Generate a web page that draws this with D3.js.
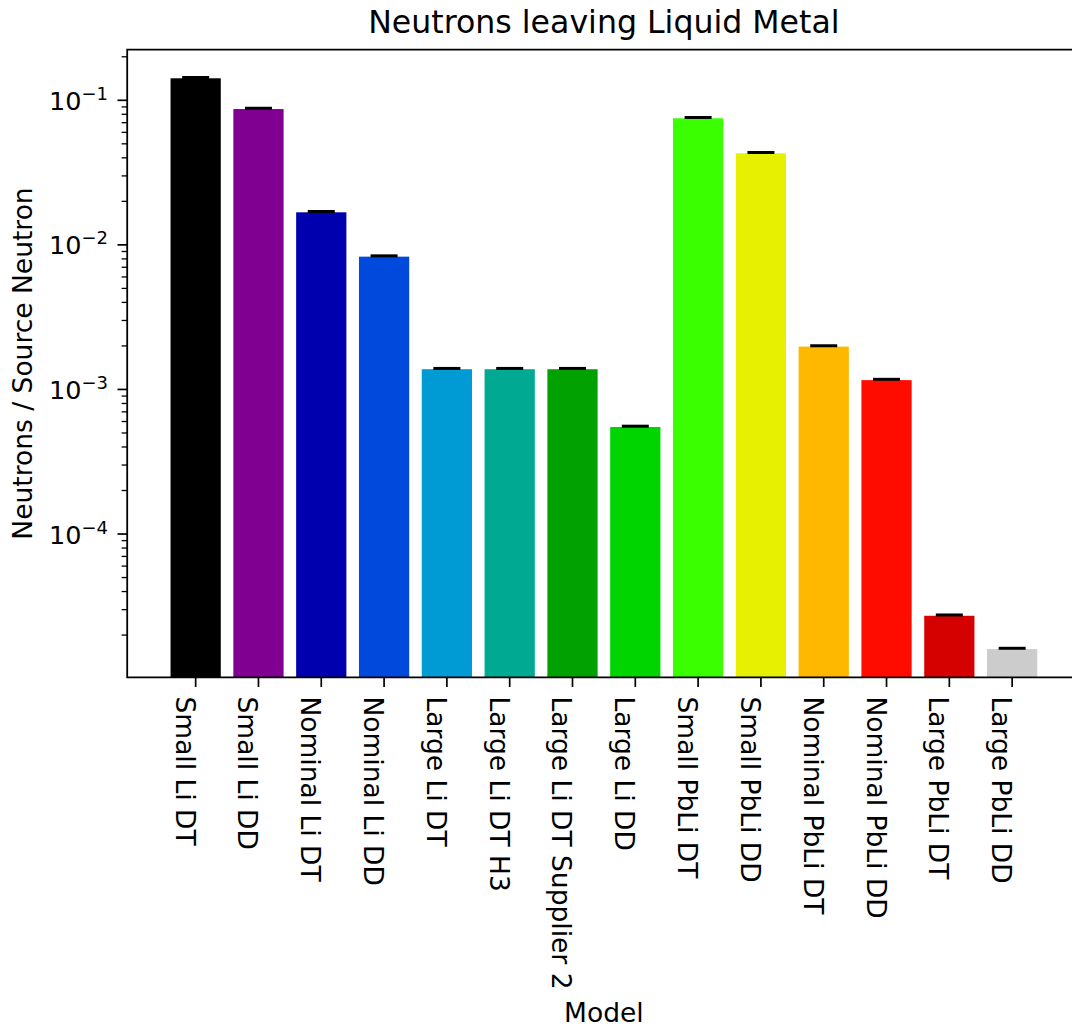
<!DOCTYPE html>
<html>
<head>
<meta charset="utf-8">
<script src="https://cdn.jsdelivr.net/npm/d3@7"></script>
<style>
	body { margin: 0; background: #fff; }
	text { font-family: "DejaVu Sans", sans-serif; fill: #000; }
</style>
</head>
<body>
<svg id="chart" width="1072" height="1028"></svg>
<script>
// models on the x axis
var models = ["Small Li DT", "Small Li DD", "Nominal Li DT", "Nominal Li DD",
	"Large Li DT", "Large Li DT H3", "Large Li DT Supplier 2", "Large Li DD",
	"Small PbLi DT", "Small PbLi DD", "Nominal PbLi DT", "Nominal PbLi DD",
	"Large PbLi DT", "Large PbLi DD"];

// neutrons per source neutron
var leaving = [0.142, 0.087, 0.0168, 0.00829,
	0.00138, 0.00138, 0.00138, 0.00055,
	0.0751, 0.0430, 0.00198, 0.00116,
	0.0000272, 0.0000160];

var yTicks = [1e-4, 1e-3, 1e-2, 1e-1];
var yTickExp = ["−4", "−3", "−2", "−1"];

// nipy_spectral sampled i/13
var barColors = ["#000000", "#800091", "#0000ae", "#0049dd", "#009bd5", "#00aa92",
	"#00a100", "#00d500", "#3aff00", "#e6f000", "#ffb800", "#ff0c00", "#d50000", "#cccccc"];

buildChart();

function buildChart() {
	var svg = d3.select("#chart");

	var left = 127.2, right = 1080.6, top = 49.7, bottom = 677.3;

	var x = d3.scaleLinear()
		.domain([-1.09, models.length - 1 + 1.09])
		.range([left, right]);

	var y = d3.scaleLog()
		.domain([Math.pow(10, -4.991), Math.pow(10, -0.65)])
		.range([bottom, top]);

	svg.append("rect")
		.attr("width", 1072).attr("height", 1028)
		.attr("fill", "#fff");

	// bars
	svg.append("g")
		.selectAll("rect")
		.data(leaving)
		.enter().append("rect")
			.attr("x", function(d, i) { return x(i - 0.4); })
			.attr("width", function(d, i) { return x(i + 0.4) - x(i - 0.4); })
			.attr("y", function(d) { return y(d); })
			.attr("height", function(d) { return bottom - y(d); })
			.attr("fill", function(d, i) { return barColors[i]; });

	// error bar caps
	svg.append("g")
		.selectAll("line")
		.data(leaving)
		.enter().append("line")
			.attr("x1", function(d, i) { return x(i) - 13.5; })
			.attr("x2", function(d, i) { return x(i) + 13.5; })
			.attr("y1", function(d) { return y(d) - 0.8; })
			.attr("y2", function(d) { return y(d) - 0.8; })
			.attr("stroke", "#000")
			.attr("stroke-width", 3);

	// minor ticks on the log axis
	var minor = [];
	for (var e = -5; e <= -1; e++) {
		for (var m = 2; m <= 9; m++) {
			var v = m * Math.pow(10, e);
			if (v >= y.domain()[0] && v <= y.domain()[1]) minor.push(v);
		}
	}

	svg.append("g")
		.selectAll("line")
		.data(minor)
		.enter().append("line")
			.attr("x1", left - 5.6).attr("x2", left)
			.attr("y1", function(d) { return y(d); })
			.attr("y2", function(d) { return y(d); })
			.attr("stroke", "#000")
			.attr("stroke-width", 1.3);

	svg.append("g")
		.selectAll("line")
		.data(yTicks)
		.enter().append("line")
			.attr("x1", left - 9.7).attr("x2", left)
			.attr("y1", function(d) { return y(d); })
			.attr("y2", function(d) { return y(d); })
			.attr("stroke", "#000")
			.attr("stroke-width", 1.7);

	var yLabels = svg.append("g")
		.selectAll("text")
		.data(yTicks)
		.enter().append("text")
			.attr("x", 108)
			.attr("y", function(d) { return y(d) + 9.5; })
			.attr("text-anchor", "end")
			.style("font-size", "25.5px");

	yLabels.append("tspan").text("10");
	yLabels.append("tspan")
		.attr("dy", -10)
		.style("font-size", "18px")
		.text(function(d, i) { return yTickExp[i]; });

	// x ticks and labels
	svg.append("g")
		.selectAll("line")
		.data(models)
		.enter().append("line")
			.attr("x1", function(d, i) { return x(i); })
			.attr("x2", function(d, i) { return x(i); })
			.attr("y1", bottom).attr("y2", bottom + 9.7)
			.attr("stroke", "#000")
			.attr("stroke-width", 1.7);

	svg.append("g")
		.selectAll("text")
		.data(models)
		.enter().append("text")
			.attr("transform", function(d, i) { return "translate(" + (x(i) - 20) + ",696.5) rotate(90)"; })
			.attr("dy", "0em")
			.style("font-size", "26.5px")
			.text(function(d) { return d; });

	// spines
	svg.append("path")
		.attr("d", "M" + left + "," + top + "V" + bottom + "H" + right + "V" + top + "Z")
		.attr("fill", "none")
		.attr("stroke", "#000")
		.attr("stroke-width", 1.8);

	svg.append("text")
		.attr("x", (left + right) / 2)
		.attr("y", 33)
		.attr("text-anchor", "middle")
		.style("font-size", "31.6px")
		.text("Neutrons leaving Liquid Metal");

	svg.append("text")
		.attr("x", (left + right) / 2)
		.attr("y", 1022)
		.attr("text-anchor", "middle")
		.style("font-size", "26.5px")
		.text("Model");

	svg.append("text")
		.attr("transform", "translate(31.5," + ((top + bottom) / 2) + ") rotate(-90)")
		.attr("text-anchor", "middle")
		.style("font-size", "26.5px")
		.text("Neutrons / Source Neutron");
}
</script>
</body>
</html>
